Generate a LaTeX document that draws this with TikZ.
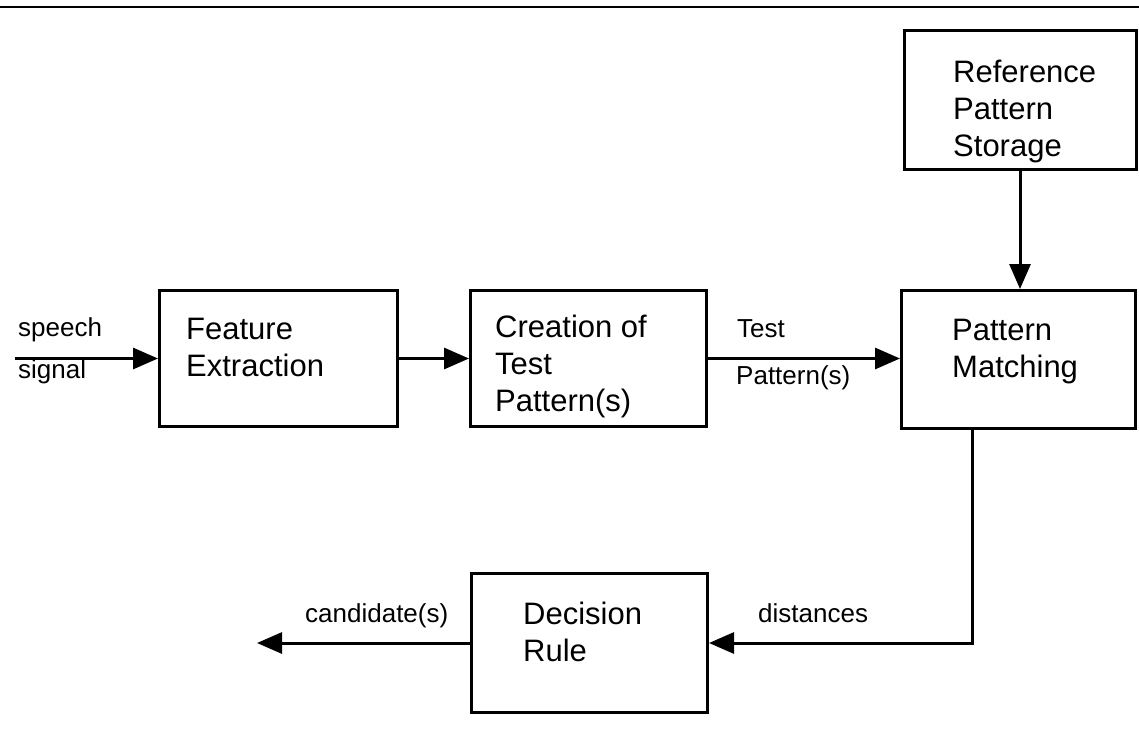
\documentclass[tikz,border=0pt]{standalone}
\usepackage{fontspec}
\setmainfont{Liberation Sans}
\usetikzlibrary{arrows.meta}

\begin{document}
\begin{tikzpicture}[x=1pt,y=-1pt,
  box/.style={draw, line width=3pt, inner sep=0pt},
  boxtext/.style={anchor=base west, inner sep=0pt, font=\fontsize{31}{37}\selectfont},
  lbl/.style={anchor=base west, inner sep=0pt, font=\fontsize{26}{30}\selectfont},
  flow/.style={line width=3pt, -{Triangle[length=25pt,width=21pt]}}]
\useasboundingbox (0,0) rectangle (1139,735);

% rule along the top edge
\draw[line width=2.5pt] (0,7) -- (1139,7);

% processing blocks
\node[box, minimum width=232pt, minimum height=139pt] (store) at (1020,100)   {};
\node[box, minimum width=238pt, minimum height=136pt] (fe)    at (278.5,358.5) {};
\node[box, minimum width=236pt, minimum height=136pt] (cr)    at (588.5,358.5) {};
\node[box, minimum width=234pt, minimum height=138pt] (pm)    at (1018.5,359.5) {};
\node[box, minimum width=236pt, minimum height=139pt] (dr)    at (589.5,643)   {};

% block captions
\node[boxtext] (storetext) at (953,83)  {\vtop{\hbox{Reference}\hbox{Pattern}\hbox{Storage}}};
\node[boxtext] (fetext)    at (186,339) {\vtop{\hbox{Feature}\hbox{Extraction}}};
\node[boxtext] (crtext)    at (495,337) {\vtop{\hbox{Creation of}\hbox{Test}\hbox{Pattern(s)}}};
\node[boxtext] (pmtext)    at (952,340) {\vtop{\hbox{Pattern}\hbox{Matching}}};
\node[boxtext] (drtext)    at (523,624) {\vtop{\hbox{Decision}\hbox{Rule}}};

% free ends of the input and output lines
\coordinate (input)  at (15,358.5);
\coordinate (output) at (257,643);
\coordinate (pmout)  at (972,428.5);

% signal flow
\draw[flow] (input) -- (fe.west);
\draw[flow] (fe.east) -- (cr.west);
\draw[flow] (cr.east) -- (cr.east -| pm.west);
\draw[flow] (store.south) -- (store.south |- pm.north);
\draw[flow] (pmout) |- (dr.east);
\draw[flow] (dr.west) -- (output);

% line labels
\node[lbl] (speech)    at (18,336)  {speech};
\node[lbl] (signal)    at (18,378)  {signal};
\node[lbl] (test)      at (737,337) {Test};
\node[lbl] (testpat)   at (736,384) {Pattern(s)};
\node[lbl] (distances) at (758,622) {distances};
\node[lbl] (cands)     at (305,622) {candidate(s)};
\end{tikzpicture}
\end{document}
